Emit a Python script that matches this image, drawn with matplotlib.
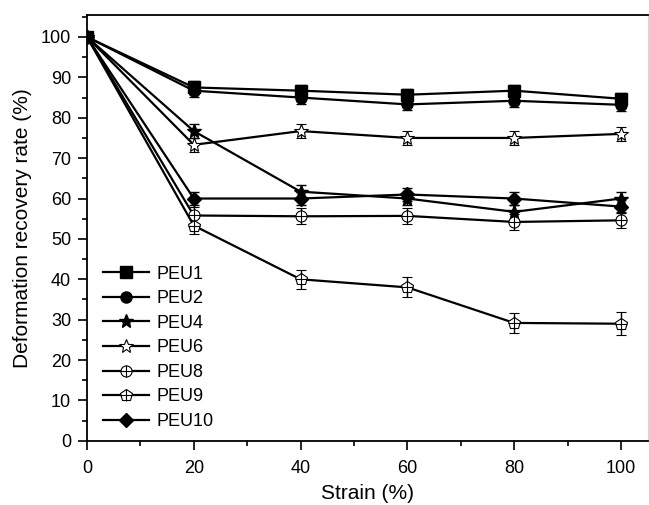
import matplotlib.pyplot as plt
import numpy as np
from matplotlib.ticker import MultipleLocator

plt.rcParams['font.family'] = ['Liberation Sans', 'DejaVu Sans']

# Data
strain = [0, 20, 40, 60, 80, 100]
peu1 = [100, 87.5, 86.7, 85.7, 86.7, 84.7]
peu2 = [100, 86.7, 85.0, 83.3, 84.2, 83.2]
peu4 = [100, 76.7, 61.7, 60.0, 56.7, 60.0]
peu6 = [100, 73.3, 76.7, 75.0, 75.0, 76.0]
peu8 = [100, 55.8, 55.6, 55.7, 54.2, 54.6]
peu9 = [100, 53.3, 40.0, 38.0, 29.2, 29.0]
peu10 = [100, 60.0, 60.0, 61.0, 60.0, 58.0]

err1 = [0, 1.5, 1.5, 1.5, 1.5, 1.5]
err2 = [0, 1.5, 1.5, 1.5, 1.5, 1.5]
err4 = [0, 1.7, 1.7, 1.7, 1.7, 1.7]
err6 = [0, 1.7, 1.7, 1.7, 1.7, 1.7]
err8 = [0, 2.0, 2.0, 2.0, 2.0, 2.0]
err9 = [0, 2.0, 2.3, 2.5, 2.5, 2.8]
err10 = [0, 1.7, 1.7, 1.7, 1.7, 1.7]

fig = plt.figure(figsize=(6.49, 5.05), dpi=100)
ax = fig.add_axes([0.134, 0.127, 0.864, 0.843])

common = dict(color='black', lw=1.6, elinewidth=1.0, capsize=3.5, capthick=1.0,
              markersize=8)

handles = []
labels = []

h = ax.errorbar(strain, peu1, yerr=err1, marker='s', mfc='black', mec='black', **common)
handles.append(h[0]); labels.append('PEU1')
h = ax.errorbar(strain, peu2, yerr=err2, marker='o', mfc='black', mec='black', **common)
handles.append(h[0]); labels.append('PEU2')
h = ax.errorbar(strain, peu4, yerr=err4, marker='*', mfc='black', mec='black',
                **{**common, 'markersize': 10.5})
handles.append(h[0]); labels.append('PEU4')
h = ax.errorbar(strain, peu6, yerr=err6, marker='*', mfc='white', mec='black', mew=0.8,
                **{**common, 'markersize': 10.5})
handles.append(h[0]); labels.append('PEU6')

h = ax.errorbar(strain, peu8, yerr=err8, marker='o', mfc='white', mec='black', mew=0.8,
                **common)
p, = ax.plot(strain, peu8, ls='none', marker='+', color='black', markersize=8, mew=0.8,
             zorder=6)
handles.append((h[0], p)); labels.append('PEU8')

h = ax.errorbar(strain, peu9, yerr=err9, marker='p', mfc='white', mec='black', mew=0.8,
                **{**common, 'markersize': 9})
p, = ax.plot(strain, peu9, ls='none', marker='+', color='black', markersize=8.5, mew=0.8,
             zorder=6)
handles.append((h[0], p)); labels.append('PEU9')

h = ax.errorbar(strain, peu10, yerr=err10, marker='D', mfc='black', mec='black',
                **{**common, 'markersize': 7})
handles.append(h[0]); labels.append('PEU10')

ax.set_xlim(0, 105)
ax.set_ylim(0, 105.4)
ax.xaxis.set_major_locator(MultipleLocator(20))
ax.xaxis.set_minor_locator(MultipleLocator(10))
ax.yaxis.set_major_locator(MultipleLocator(10))
ax.yaxis.set_minor_locator(MultipleLocator(5))
ax.tick_params(which='both', direction='out', width=1.2, labelsize=13, pad=5)
ax.tick_params(axis='x', which='major', pad=7)
ax.tick_params(which='major', length=6.5)
ax.tick_params(which='minor', length=3.5)
for s in ['left', 'bottom', 'top']:
    ax.spines[s].set_linewidth(1.3)
ax.spines['right'].set_color('#d8d8d8')

ax.set_xlabel('Strain (%)', fontsize=15, labelpad=5)
ax.set_ylabel('Deformation recovery rate (%)', fontsize=15, labelpad=6)

ax.legend(handles, labels, loc='lower left', bbox_to_anchor=(0.01, 0.0), frameon=False,
          fontsize=13, handlelength=2.5, handletextpad=0.45, labelspacing=0.42,
          borderaxespad=0.2)

fig.savefig('out.png', dpi=100)
